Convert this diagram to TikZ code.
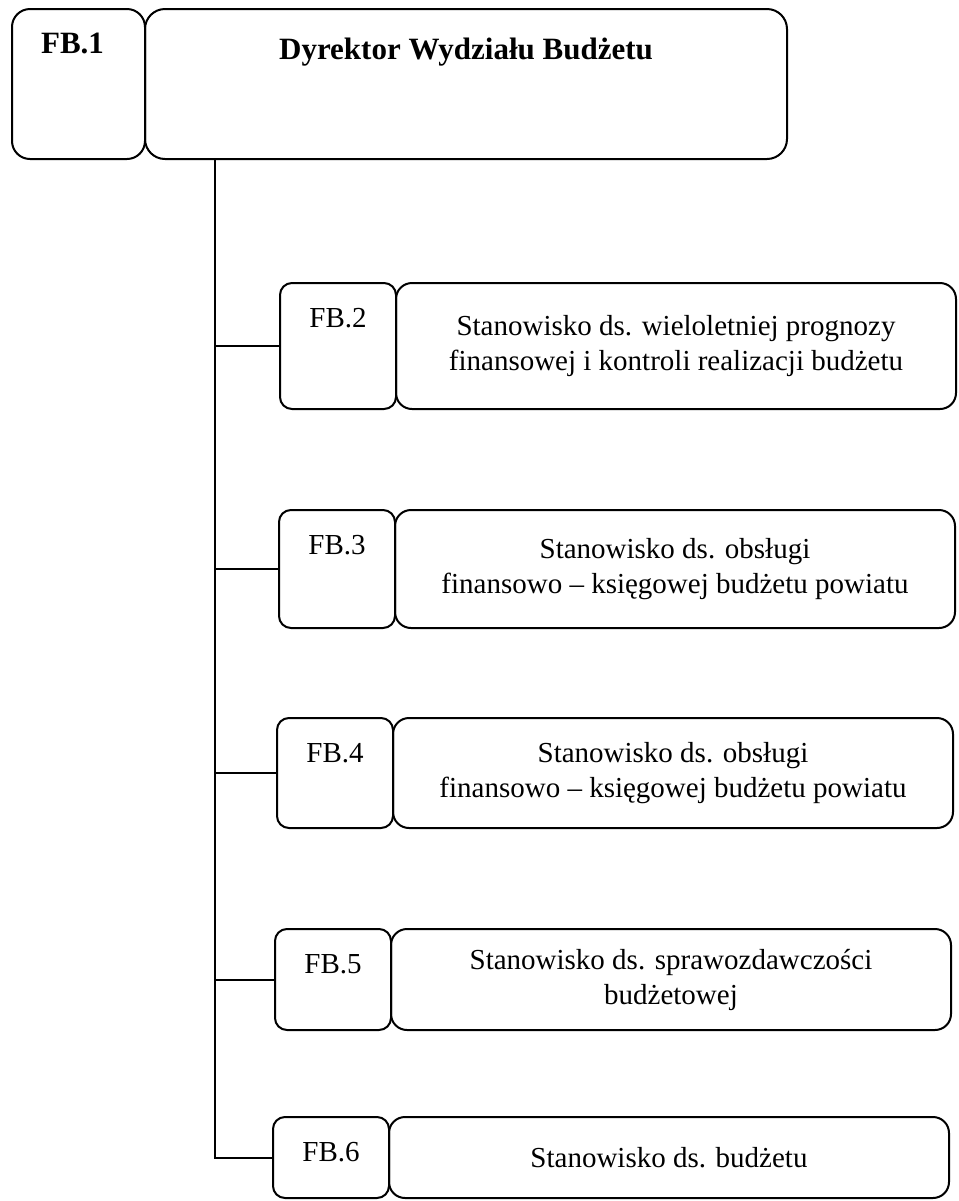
\documentclass[tikz,border=0pt]{standalone}
\usepackage{fontspec}
\setmainfont{Liberation Serif}
\usetikzlibrary{
  positioning,
}
\tikzstyle{codebox} = [
  draw,
  line width=1pt,
  rounded corners=6pt,
  minimum width=58pt,
  inner sep=0pt,
  outer sep=0pt,
]
\tikzstyle{postbox} = [
  draw,
  line width=1pt,
  rounded corners=8pt,
  minimum width=280pt,
  inner sep=0pt,
  outer sep=0pt,
  align=center,
  font=\fontsize{14.5}{17.5}\selectfont,
]
\tikzstyle{codetxt} = [
  anchor=base,
  font=\fontsize{14.5}{17.5}\selectfont,
]
\tikzstyle{conn} = [
  line width=1pt,
]

\begin{document}
\begin{tikzpicture}[x=0.5pt, y=-0.5pt]

        \useasboundingbox (0,0) rectangle (959,1201);

        % head of the department
        \node [codebox, anchor=north west, minimum width=66.5pt, minimum height=75pt,
               rounded corners=9pt] (s1) at (12,9) {};
        \node [postbox, right=0pt of s1, minimum width=321pt, minimum height=75pt,
               rounded corners=10pt] (dyr) {};
        \node [codetxt, font=\fontsize{15.5}{18}\selectfont\bfseries, xshift=-3pt]
              at ([yshift=-22pt]s1.north) {FB.1};
        \node [codetxt, font=\fontsize{15.5}{18}\selectfont\bfseries]
              at ([yshift=-25pt]dyr.north) {Dyrektor Wydziału Budżetu};

        % posts
        \node [codebox, anchor=north west, minimum height=63pt] (s2) at (280,283) {};
        \node [postbox, right=0pt of s2, minimum height=63pt] (p2)
              {Stanowisko ds. wieloletniej prognozy\\finansowej i kontroli realizacji budżetu};
        \node [codetxt] at ([yshift=-22pt]s2.north) {FB.2};

        \node [codebox, anchor=north west, minimum height=59pt] (s3) at (279,510) {};
        \node [postbox, right=0pt of s3, minimum height=59pt] (p3)
              {Stanowisko ds. obsługi\\finansowo -- księgowej budżetu powiatu};
        \node [codetxt] at ([yshift=-22pt]s3.north) {FB.3};

        \node [codebox, anchor=north west, minimum height=55pt] (s4) at (277,718) {};
        \node [postbox, right=0pt of s4, minimum height=55pt] (p4)
              {Stanowisko ds. obsługi\\finansowo -- księgowej budżetu powiatu};
        \node [codetxt] at ([yshift=-22pt]s4.north) {FB.4};

        \node [codebox, anchor=north west, minimum height=50.5pt] (s5) at (275,929) {};
        \node [postbox, right=0pt of s5, minimum height=50.5pt] (p5)
              {Stanowisko ds. sprawozdawczości\\budżetowej};
        \node [codetxt] at ([yshift=-22pt]s5.north) {FB.5};

        \node [codebox, anchor=north west, minimum height=40.5pt] (s6) at (273,1117) {};
        \node [postbox, right=0pt of s6, minimum height=40.5pt] (p6)
              {Stanowisko ds. budżetu};
        \node [codetxt] at ([yshift=-22pt]s6.north) {FB.6};

        % connectors
        \coordinate (trunk) at ([xshift=35pt]dyr.south west);

        \draw [conn] (trunk) |- (s6.west);

        \foreach \i in {2,...,5} {
          \draw [conn] (trunk |- s\i.west) -- (s\i.west);
        }
      \end{tikzpicture}
\end{document}
